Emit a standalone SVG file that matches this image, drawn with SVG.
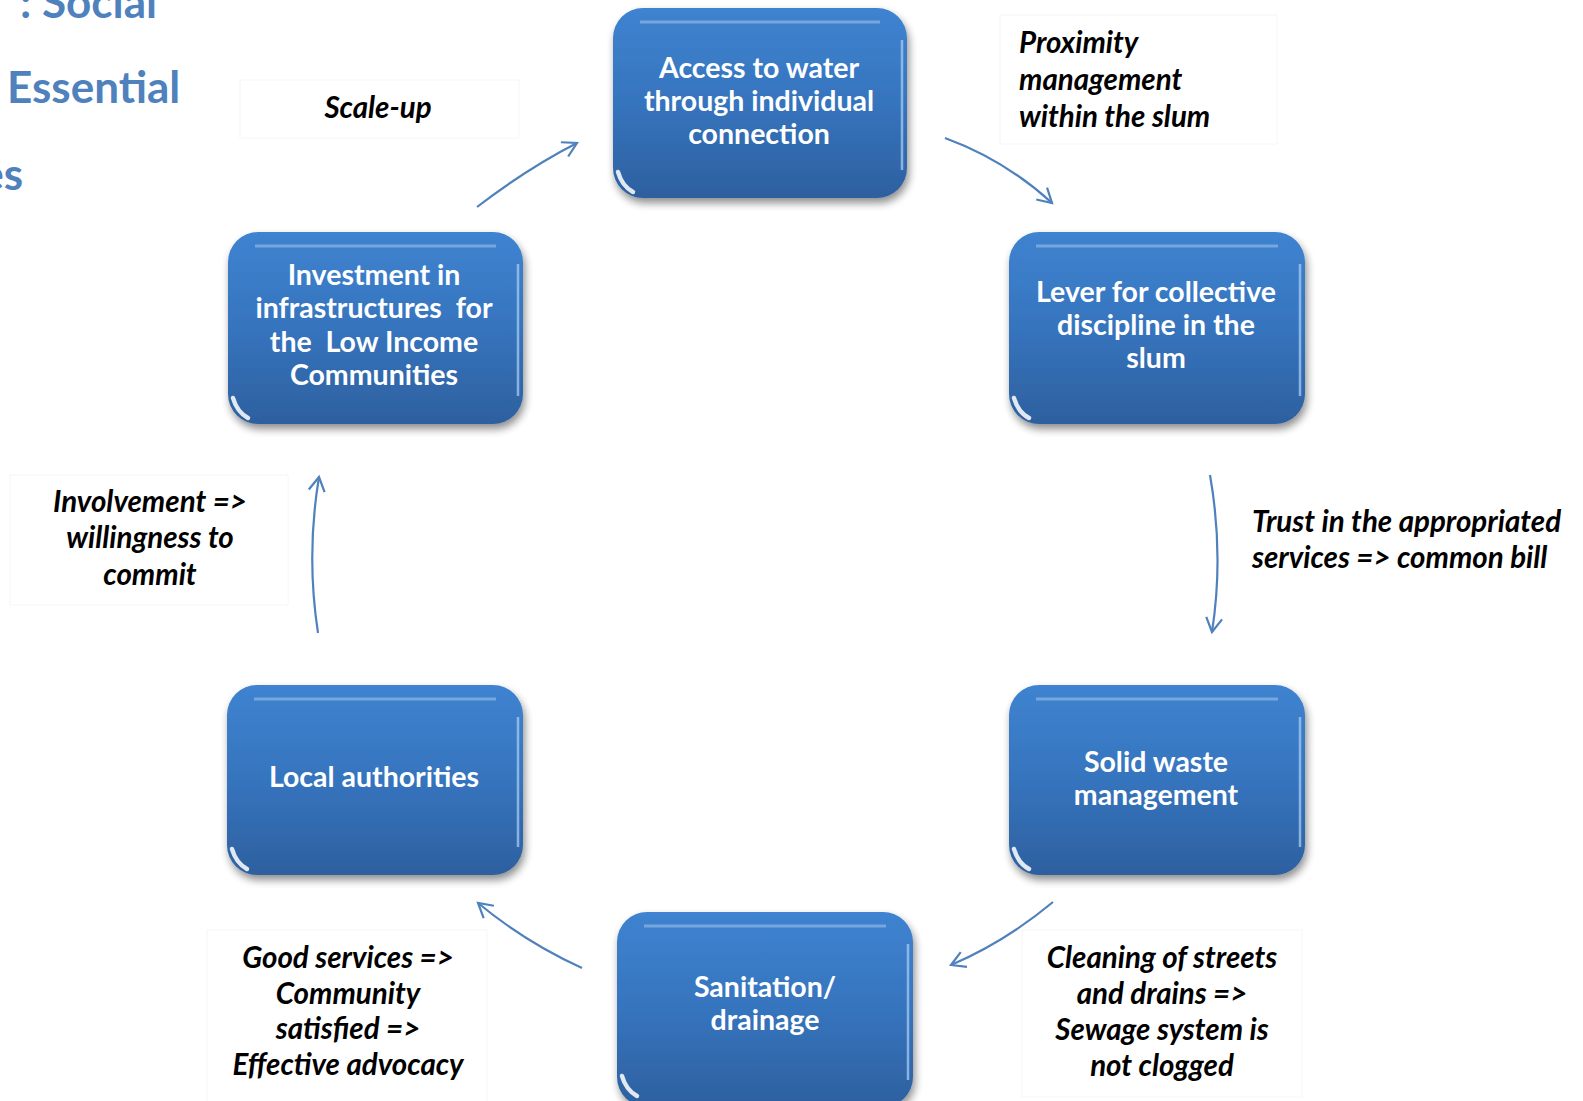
<svg xmlns="http://www.w3.org/2000/svg" width="1583" height="1101" viewBox="0 0 1583 1101">
<style>
.head{font-family:Lato,"Open Sans",sans-serif;font-weight:bold;font-size:44px;fill:#4F81BD}
.nt{font-family:Lato,"Open Sans",sans-serif;font-weight:bold;font-size:28.5px;fill:#ffffff;text-anchor:middle;white-space:pre}
.lt{font-family:Lato,"Open Sans",sans-serif;font-weight:bold;font-style:italic;font-size:29.5px;fill:#000000}
.lbox{fill:#ffffff;stroke:#f6f6f6;stroke-width:1}
.box{fill:url(#gBlue);filter:url(#shadow)}
.hl{fill:none;stroke:#ffffff;stroke-opacity:0.3;stroke-width:3}
.edge{fill:none;stroke:#a6cbf3;stroke-width:2.5;stroke-opacity:0.75}
.glint{fill:none;stroke:#ffffff;stroke-width:4.5;stroke-linecap:round;stroke-opacity:0.85}
.conn{fill:none;stroke:#4F81BD;stroke-width:2.2;marker-end:url(#arr)}
</style>
<defs>
<linearGradient id="gBlue" x1="0" y1="0" x2="0" y2="1">
<stop offset="0" stop-color="#3F83D0"/>
<stop offset="0.5" stop-color="#3674BE"/>
<stop offset="1" stop-color="#2D609F"/>
</linearGradient>
<filter id="shadow" x="-10%" y="-10%" width="120%" height="125%">
<feGaussianBlur in="SourceAlpha" stdDeviation="4"/>
<feOffset dx="2" dy="5" result="b"/>
<feComponentTransfer><feFuncA type="linear" slope="0.45"/></feComponentTransfer>
<feMerge><feMergeNode/><feMergeNode in="SourceGraphic"/></feMerge>
</filter>
<marker id="arr" viewBox="-16 -10 20 20" refX="0" refY="0" markerWidth="20" markerHeight="20" markerUnits="userSpaceOnUse" orient="auto">
<path d="M-14,-8 L0,0 L-14,8" fill="none" stroke="#4F81BD" stroke-width="2.2"/>
</marker>
</defs>
<rect width="1583" height="1101" fill="#ffffff"/>

<g id="heading">
<text class="head" x="20" y="18">: Social</text>
<text class="head" x="7" y="103">Essential</text>
<text class="head" x="23" y="190" text-anchor="end">es</text>
</g>

<g id="label-boxes">
<rect class="lbox" x="240" y="80" width="279" height="58"/>
<rect class="lbox" x="1000" y="15" width="277" height="129"/>
<rect class="lbox" x="10" y="475" width="278" height="130"/>
<rect class="lbox" x="207" y="930" width="280" height="180"/>
<rect class="lbox" x="1022" y="930" width="280" height="167"/>
</g>

<g id="connectors">
<path class="conn" d="M477,207 Q528,168 577,143"/>
<path class="conn" d="M945,138 Q1005,160 1052,203"/>
<path class="conn" d="M1210,475 Q1224,555 1212,632"/>
<path class="conn" d="M1053,902 Q1005,942 951,965"/>
<path class="conn" d="M582,968 Q525,942 478,903"/>
<path class="conn" d="M318,633 Q306,555 319,477"/>
</g>

<g id="node-access">
<rect class="box" x="613" y="8" width="294" height="190" rx="30"/>
<path class="hl" d="M640,22 H880"/>
<path class="edge" d="M902,40 V170"/>
<path class="glint" d="M618,172 Q622,186 633,192"/>
<text class="nt" x="759" y="78">Access to water</text>
<text class="nt" x="759" y="111">through individual</text>
<text class="nt" x="759" y="144">connection</text>
</g>

<g id="node-lever">
<rect class="box" x="1009" y="232" width="296" height="192" rx="30"/>
<path class="hl" d="M1036,246 H1278"/>
<path class="edge" d="M1300,264 V396"/>
<path class="glint" d="M1014,398 Q1018,412 1029,418"/>
<text class="nt" x="1156" y="302">Lever for collective</text>
<text class="nt" x="1156" y="335">discipline in the</text>
<text class="nt" x="1156" y="368">slum</text>
</g>

<g id="node-solid">
<rect class="box" x="1009" y="685" width="296" height="190" rx="30"/>
<path class="hl" d="M1036,699 H1278"/>
<path class="edge" d="M1300,717 V847"/>
<path class="glint" d="M1014,849 Q1018,863 1029,869"/>
<text class="nt" x="1156" y="772">Solid waste</text>
<text class="nt" x="1156" y="805">management</text>
</g>

<g id="node-sanitation">
<rect class="box" x="617" y="912" width="296" height="195" rx="30"/>
<path class="hl" d="M644,926 H886"/>
<path class="edge" d="M908,944 V1080"/>
<path class="glint" d="M622,1076 Q626,1090 637,1096"/>
<text class="nt" x="765" y="997">Sanitation/</text>
<text class="nt" x="765" y="1030">drainage</text>
</g>

<g id="node-local">
<rect class="box" x="227" y="685" width="296" height="190" rx="30"/>
<path class="hl" d="M254,699 H496"/>
<path class="edge" d="M518,717 V847"/>
<path class="glint" d="M232,849 Q236,863 247,869"/>
<text class="nt" x="374" y="787">Local authorities</text>
</g>

<g id="node-invest">
<rect class="box" x="228" y="232" width="295" height="192" rx="30"/>
<path class="hl" d="M255,246 H496"/>
<path class="edge" d="M518,264 V396"/>
<path class="glint" d="M233,398 Q237,412 248,418"/>
<text class="nt" x="374" y="285">Investment in</text>
<text class="nt" x="374" y="318">infrastructures  for</text>
<text class="nt" x="374" y="352">the  Low Income</text>
<text class="nt" x="374" y="385">Communities</text>
</g>

<g id="labels">
<text class="lt" x="378" y="118" text-anchor="middle">Scale-up</text>
<text class="lt" x="1019" y="53">Proximity</text>
<text class="lt" x="1019" y="90">management</text>
<text class="lt" x="1019" y="127">within the slum</text>
<text class="lt" x="1252" y="532">Trust in the appropriated</text>
<text class="lt" x="1252" y="568">services =&gt; common bill</text>
<text class="lt" x="150" y="512" text-anchor="middle">Involvement =&gt;</text>
<text class="lt" x="150" y="548" text-anchor="middle">willingness to</text>
<text class="lt" x="150" y="585" text-anchor="middle">commit</text>
<text class="lt" x="348" y="968" text-anchor="middle">Good services =&gt;</text>
<text class="lt" x="348" y="1004" text-anchor="middle">Community</text>
<text class="lt" x="348" y="1039" text-anchor="middle">satisfied =&gt;</text>
<text class="lt" x="348" y="1075" text-anchor="middle">Effective advocacy</text>
<text class="lt" x="1162" y="968" text-anchor="middle">Cleaning of streets</text>
<text class="lt" x="1162" y="1004" text-anchor="middle">and drains =&gt;</text>
<text class="lt" x="1162" y="1040" text-anchor="middle">Sewage system is</text>
<text class="lt" x="1162" y="1076" text-anchor="middle">not clogged</text>
</g>
</svg>
